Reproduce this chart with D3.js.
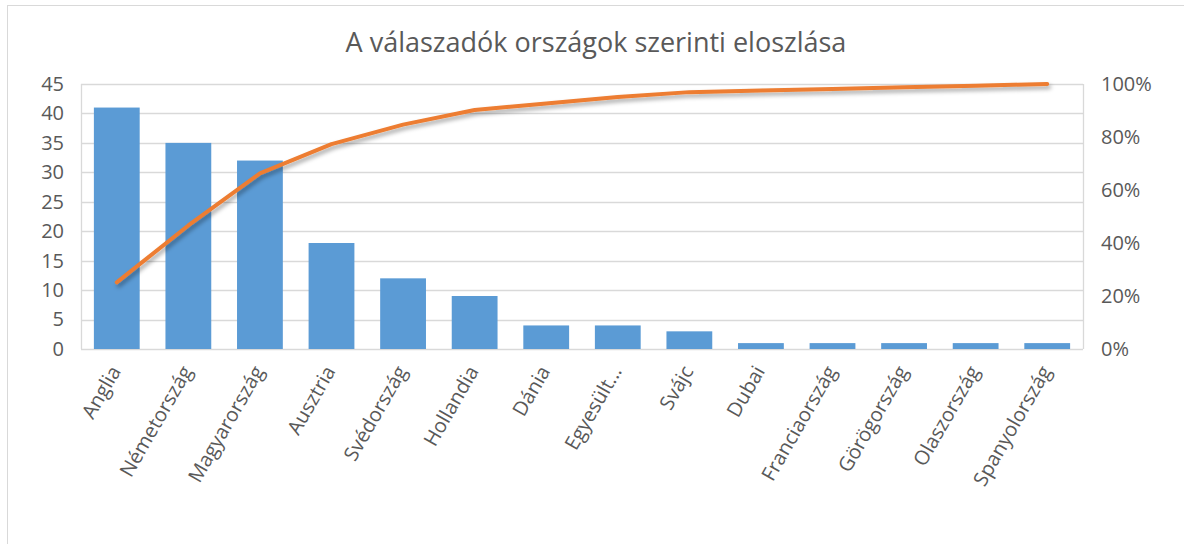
<!DOCTYPE html>
<html>
<head>
<meta charset="utf-8">
<script src="https://cdn.jsdelivr.net/npm/d3@7"></script>
<style>
  body { margin: 0; background: #fff; }
  svg { display: block; font-family: "Open Sans", sans-serif; }
</style>
</head>
<body>
<svg id="chart" width="1184" height="544"></svg>
<script>
// Data
const countries = ["Anglia", "Németország", "Magyarország", "Ausztria", "Svédország", "Hollandia",
    "Dánia", "Egyesült...", "Svájc", "Dubai", "Franciaország", "Görögország", "Olaszország", "Spanyolország"];
const counts = [41, 35, 32, 18, 12, 9, 4, 4, 3, 1, 1, 1, 1, 1];
const leftTicks = [0, 5, 10, 15, 20, 25, 30, 35, 40, 45];
const rightTicks = [0, 0.2, 0.4, 0.6, 0.8, 1];
const title = "A válaszadók országok szerinti eloszlása";

const total = d3.sum(counts);
let run = 0;
const cumulative = counts.map(v => (run += v) / total);

const svg = d3.select("#chart");
const margin = { top: 84, right: 101, bottom: 195, left: 81 };
const W = 1184, H = 544;
const width = W - margin.left - margin.right;
const height = H - margin.top - margin.bottom;

// chart border
svg.append("rect")
    .attr("x", 7.5).attr("y", 5.5)
    .attr("width", 1200).attr("height", 600)
    .attr("fill", "none").attr("stroke", "#d9d9d9");

svg.append("text")
    .attr("x", 596).attr("y", 52)
    .attr("text-anchor", "middle")
    .attr("fill", "#595959")
    .attr("font-size", 27)
    .text(title);

const defs = svg.append("defs");
defs.append("filter").attr("id", "shadow")
    .attr("x", "-10%").attr("y", "-10%").attr("width", "130%").attr("height", "130%")
    .append("feDropShadow")
    .attr("dx", 2).attr("dy", 3).attr("stdDeviation", 2)
    .attr("flood-color", "#000").attr("flood-opacity", 0.35);

const g = svg.append("g").attr("transform", `translate(${margin.left},${margin.top})`);

const x = d3.scaleBand().domain(countries).range([0, width]).paddingInner(0.36).paddingOuter(0.18);
const y = d3.scaleLinear().domain([0, 45]).range([height, 0]);
const y2 = d3.scaleLinear().domain([0, 1]).range([height, 0]);

// grid
g.append("g")
    .selectAll("line")
    .data(leftTicks)
    .join("line")
    .attr("x1", 0).attr("x2", width)
    .attr("y1", d => Math.round(y(d)) + 0.5).attr("y2", d => Math.round(y(d)) + 0.5)
    .attr("stroke", "#d9d9d9").attr("stroke-width", 1.3);

g.append("line")
    .attr("x1", 0.5).attr("x2", 0.5).attr("y1", 0).attr("y2", height)
    .attr("stroke", "#d9d9d9").attr("stroke-width", 1.3);
g.append("line")
    .attr("x1", width + 0.5).attr("x2", width + 0.5).attr("y1", 0).attr("y2", height)
    .attr("stroke", "#d9d9d9").attr("stroke-width", 1.3);

// bars
g.selectAll(".bar")
    .data(counts)
    .join("rect")
    .attr("class", "bar")
    .attr("x", (d, i) => x(countries[i]))
    .attr("y", d => y(d))
    .attr("width", x.bandwidth())
    .attr("height", d => height - y(d))
    .attr("fill", "#5b9bd5");

// cumulative line
const line = d3.line()
    .x((d, i) => x(countries[i]) + x.bandwidth() / 2)
    .y(d => y2(d));

g.append("path")
    .datum(cumulative)
    .attr("d", line)
    .attr("fill", "none")
    .attr("stroke", "#ed7d31")
    .attr("stroke-width", 4)
    .attr("stroke-linejoin", "round")
    .attr("stroke-linecap", "round")
    .attr("filter", "url(#shadow)");

// axes
const leftAxis = g.append("g")
    .call(d3.axisLeft(y).tickValues(leftTicks).tickSize(0).tickPadding(17));
const rightAxis = g.append("g")
    .attr("transform", `translate(${width},0)`)
    .call(d3.axisRight(y2).tickValues(rightTicks).tickFormat(d3.format(".0%")).tickSize(0).tickPadding(18));
const bottomAxis = g.append("g")
    .attr("transform", `translate(0,${height})`)
    .call(d3.axisBottom(x).tickSize(0));

[leftAxis, rightAxis, bottomAxis].forEach(a => {
    a.select(".domain").remove();
    a.selectAll("text")
        .attr("fill", "#595959")
        .attr("font-size", 20)
        .attr("font-family", "\"Open Sans\", sans-serif");
});

bottomAxis.selectAll("text")
    .attr("text-anchor", "end")
    .attr("dy", "0.35em")
    .attr("transform", "translate(-4,17) rotate(-60)");
</script>
</body>
</html>
